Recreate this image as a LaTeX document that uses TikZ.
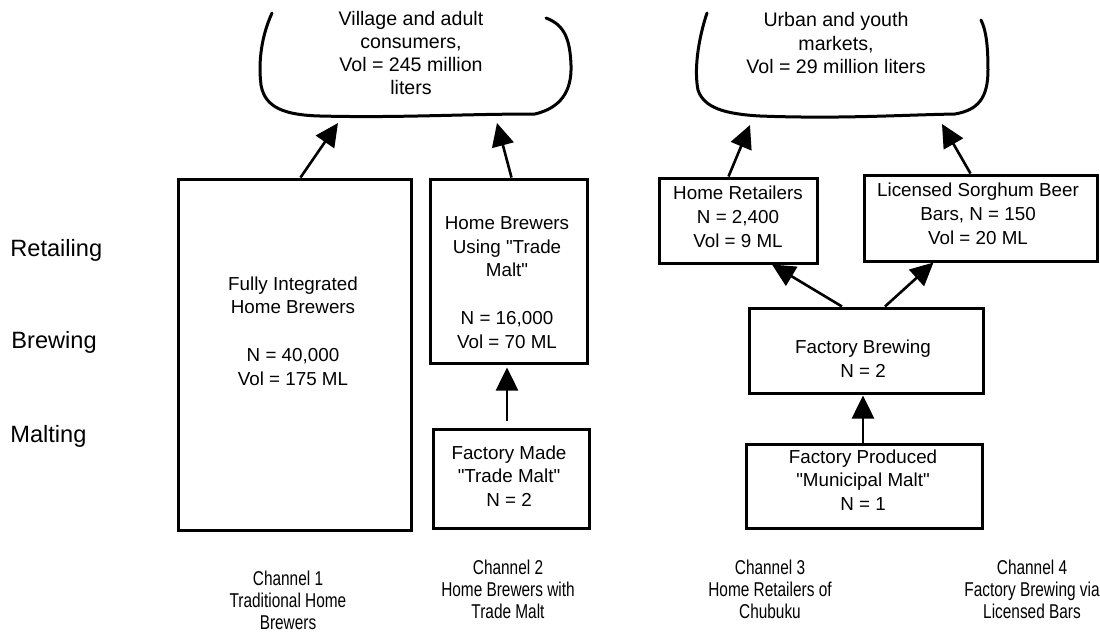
\documentclass[tikz,border=0pt]{standalone}
\usepackage{fontspec}
\setmainfont{Liberation Sans}
\newfontfamily\qf{Liberation Sans}
\newfontfamily\narrowfont[FakeStretch=0.77]{Liberation Sans}
\newcommand{\sq}{{\qf\symbol{34}}}
\usetikzlibrary{arrows.meta}
\begin{document}
\begin{tikzpicture}[x=0.5pt,y=-0.5pt,
  box/.style={draw,line width=1.5pt,inner sep=0pt},
  txt/.style={align=center,font=\fontsize{9.4}{11.9}\selectfont,inner sep=0pt},
  ctxt/.style={align=center,font=\fontsize{9.8}{11.6}\selectfont,inner sep=0pt},
  lvl/.style={anchor=west,font=\fontsize{11.8}{14}\selectfont,inner sep=0pt},
  chan/.style={align=center,font=\narrowfont\fontsize{10}{11}\selectfont,inner sep=0pt},
  arr/.style={line width=1.3pt,-{Triangle[length=11.5pt,width=11pt]}},
  cloudline/.style={line width=1.5pt,line cap=round}]
\useasboundingbox (0,0) rectangle (1100,634);
% clouds
\draw[cloudline] (272,13) .. controls (262,35) and (258,60) .. (261,85)
  .. controls (265,108) and (285,115) .. (320,116)
  .. controls (400,118) and (460,114) .. (535,114)
  .. controls (560,108) and (572,92) .. (571,65)
  .. controls (570,40) and (565,25) .. (546,18);
\draw[cloudline] (707,13) .. controls (698,40) and (694,70) .. (698,90)
  .. controls (704,108) and (725,114) .. (760,116)
  .. controls (840,119) and (900,115) .. (955,114)
  .. controls (978,110) and (988,98) .. (988,70)
  .. controls (988,45) and (986,30) .. (981,20);
\node[ctxt] (cl1) at (411,53) {Village and adult\\consumers,\\Vol = 245 million\\liters};
\node[ctxt] (cl2) at (836,43) {Urban and youth\\markets,\\Vol = 29 million liters};
\coordinate (t1) at (338,123);
\coordinate (t2) at (497,123);
\coordinate (t3) at (750,125);
\coordinate (t4) at (942,124);
% level labels
\node[lvl] (ret) at (10,250) {Retailing};
\node[lvl] (brw) at (11,342) {Brewing};
\node[lvl] (mal) at (10,436) {Malting};
% boxes
\node[box,minimum width=116.5pt,minimum height=175.5pt] (fib) at (294.5,354.5) {};
\node[txt] (fibt) at (293,331) {Fully Integrated\\Home Brewers\\[11.9pt]N = 40,000\\Vol = 175 ML};
\node[box,minimum width=78.5pt,minimum height=92pt] (hbt) at (508.5,271) {};
\node[txt] (hbtt) at (507,282.5) {Home Brewers\\Using \sq Trade\\Malt\sq\\[11.9pt]N = 16,000\\Vol = 70 ML};
\node[box,minimum width=78pt,minimum height=49.5pt] (fmt) at (511,478.5) {};
\node[txt] (fmtt) at (509,476) {Factory Made\\\sq Trade Malt\sq\\N = 2};
\node[box,minimum width=79pt,minimum height=42.5pt] (hr) at (738,220.5) {};
\node[txt] (hrt) at (738,216.5) {Home Retailers\\N = 2,400\\Vol = 9 ML};
\node[box,minimum width=116.5pt,minimum height=43pt] (lic) at (980.5,218) {};
\node[txt] (lict) at (978,214) {Licensed Sorghum Beer\\Bars, N = 150\\Vol = 20 ML};
\node[box,minimum width=117pt,minimum height=42.5pt] (fb) at (866,350.5) {};
\node[txt] (fbt) at (863,358.5) {Factory Brewing\\N = 2};
\node[box,minimum width=118pt,minimum height=42pt] (fpm) at (864,486) {};
\node[txt] (fpmt) at (863,480) {Factory Produced\\\sq Municipal Malt\sq\\N = 1};
% arrows
\draw[arr] ([xshift=62pt]fib.north west) -- (t1);
\draw[arr] ([xshift=41.5pt]hbt.north west) -- (t2);
\draw[arr] ([xshift=35.5pt]hr.north west) -- (t3);
\draw[arr] ([xshift=54pt]lic.north west) -- (t4);
\draw[arr,shorten <=3.5pt,shorten >=1.5pt] ([xshift=-2pt]fmt.north) -- ([xshift=-2pt]fmt.north |- hbt.south);
\draw[arr,shorten >=0.5pt] ([xshift=-0.5pt]fpm.north) -- ([xshift=-0.5pt]fpm.north |- fb.south);
\draw[arr] ([xshift=-12pt]fb.north) -- ([xshift=17pt]hr.south);
\draw[arr] ([xshift=9.5pt]fb.north) -- ([xshift=-23.5pt]lic.south);
% channel labels
\node[chan] (ch1) at (288,600) {Channel 1\\Traditional Home\\Brewers};
\node[chan] (ch2) at (508,589) {Channel 2\\Home Brewers with\\Trade Malt};
\node[chan] (ch3) at (770,589) {Channel 3\\Home Retailers of\\Chubuku};
\node[chan] (ch4) at (1032,589) {Channel 4\\Factory Brewing via\\Licensed Bars};
\end{tikzpicture}
\end{document}
